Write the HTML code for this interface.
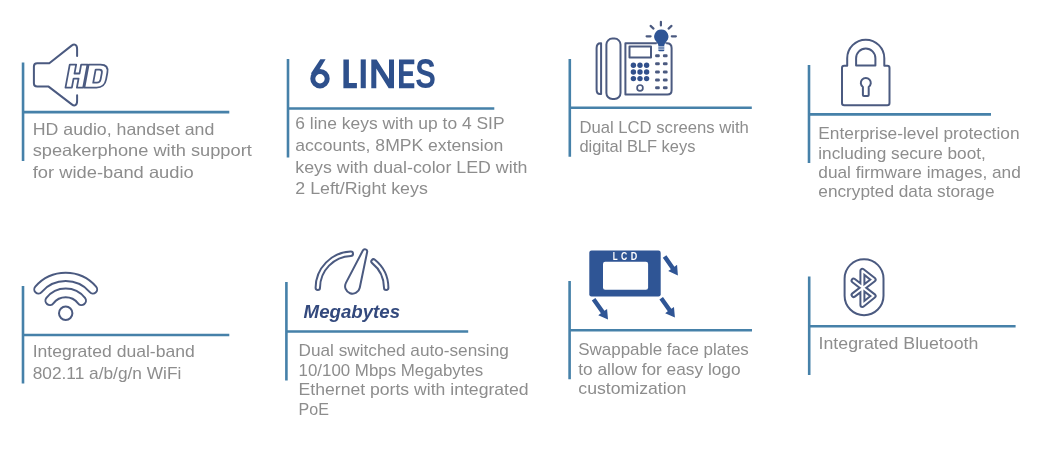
<!DOCTYPE html>
<html><head><meta charset="utf-8">
<style>
html,body{margin:0;padding:0;background:#fff;width:1038px;height:452px;overflow:hidden}
svg{display:block;will-change:transform}
.t{font-family:"Liberation Sans",sans-serif;fill:#8d8d8d}
.ln{stroke:#4681a9;stroke-width:2.6;fill:none}
.ic{stroke:#4d5a80;stroke-width:2;fill:none;stroke-linejoin:round;stroke-linecap:round}
</style></head><body>
<svg width="1038" height="452" viewBox="0 0 1038 452">
<g class="ln">
<path d="M23.05 62.5V160.9M23.05 112.1H229.3"/>
<path d="M288 59V157.6M288 108.5H494.3"/>
<path d="M569.8 58.9V156.7M569.8 107.8H751.8"/>
<path d="M809 64.9V163M809 114.4H991"/>
<path d="M23 285.9V383.6M23 335H229.3"/>
<path d="M286.4 282.1V380.4M286.4 331.5H468.2"/>
<path d="M569.6 281V379.2M569.6 330.2H752"/>
<path d="M809.2 276.5V375M809.2 326.2H1015.6"/>
</g>
<g class="t">
<text x="32.70" y="134.90" font-size="16.5" textLength="181.60" lengthAdjust="spacingAndGlyphs">HD audio, handset and</text>
<text x="32.70" y="156.10" font-size="16.5" textLength="219.10" lengthAdjust="spacingAndGlyphs">speakerphone with support</text>
<text x="32.70" y="177.50" font-size="16.5" textLength="161.10" lengthAdjust="spacingAndGlyphs">for wide-band audio</text>
<text x="295.30" y="128.75" font-size="16.6" textLength="209.25" lengthAdjust="spacingAndGlyphs">6 line keys with up to 4 SIP</text>
<text x="295.30" y="150.75" font-size="16.6" textLength="208.00" lengthAdjust="spacingAndGlyphs">accounts, 8MPK extension</text>
<text x="295.30" y="172.50" font-size="16.6" textLength="232.20" lengthAdjust="spacingAndGlyphs">keys with dual-color LED with</text>
<text x="295.30" y="193.75" font-size="16.6" textLength="132.50" lengthAdjust="spacingAndGlyphs">2 Left/Right keys</text>
<text x="579.40" y="132.80" font-size="16.6" textLength="169.40" lengthAdjust="spacingAndGlyphs">Dual LCD screens with</text>
<text x="579.40" y="152.30" font-size="16.6" textLength="116.00" lengthAdjust="spacingAndGlyphs">digital BLF keys</text>
<text x="818.30" y="139.40" font-size="16.4" textLength="201.25" lengthAdjust="spacingAndGlyphs">Enterprise-level protection</text>
<text x="818.30" y="158.60" font-size="16.4" textLength="167.50" lengthAdjust="spacingAndGlyphs">including secure boot,</text>
<text x="818.30" y="178.40" font-size="16.4" textLength="202.50" lengthAdjust="spacingAndGlyphs">dual firmware images, and</text>
<text x="818.30" y="197.30" font-size="16.4" textLength="176.25" lengthAdjust="spacingAndGlyphs">encrypted data storage</text>
<text x="32.70" y="356.90" font-size="16.6" textLength="162.10" lengthAdjust="spacingAndGlyphs">Integrated dual-band</text>
<text x="32.70" y="378.70" font-size="16.6" textLength="148.60" lengthAdjust="spacingAndGlyphs">802.11 a/b/g/n WiFi</text>
<text x="298.55" y="356.25" font-size="16.4" textLength="210.25" lengthAdjust="spacingAndGlyphs">Dual switched auto-sensing</text>
<text x="298.55" y="375.90" font-size="16.4" textLength="184.75" lengthAdjust="spacingAndGlyphs">10/100 Mbps Megabytes</text>
<text x="298.55" y="395.00" font-size="16.4" textLength="230.05" lengthAdjust="spacingAndGlyphs">Ethernet ports with integrated</text>
<text x="298.55" y="414.50" font-size="16.4" textLength="30.35" lengthAdjust="spacingAndGlyphs">PoE</text>
<text x="578.30" y="355.30" font-size="16.4" textLength="170.50" lengthAdjust="spacingAndGlyphs">Swappable face plates</text>
<text x="578.30" y="374.60" font-size="16.4" textLength="162.25" lengthAdjust="spacingAndGlyphs">to allow for easy logo</text>
<text x="578.30" y="394.10" font-size="16.4" textLength="108.00" lengthAdjust="spacingAndGlyphs">customization</text>
<text x="818.55" y="348.75" font-size="16.4" textLength="159.75" lengthAdjust="spacingAndGlyphs">Integrated Bluetooth</text>
</g>
<path d="M77.1 56V49C77.1 44.3 74.3 43.6 71.6 45.6L49.3 63.2H37.2Q33.9 63.2 33.9 66.5V83.3Q33.9 86.6 37.2 86.6H48.6L71.8 104.4C74.5 106.4 77.1 105.6 77.1 101V95.3" fill="none" stroke="#4b5a80" stroke-width="2" stroke-linejoin="round" stroke-linecap="round"/>
<g transform="translate(0 87.6) skewX(-10.5) translate(0 -87.6)" fill="#fff" stroke="#4b5a80" stroke-width="1.8" stroke-linejoin="round"><path d="M65.5 64.6H71.9V73.5H76.9V64.6H83.2V87.6H76.9V78.6H71.9V87.6H65.5Z"/><path d="M84.4 64.6H96.2Q104.6 64.6 104.6 72.8V79.6Q104.6 87.6 96.6 87.6H84.4Z"/><path d="M92.3 69.6H96Q99.1 69.6 99.1 73V79.3Q99.1 82.7 96 82.7H92.3Z"/></g>
<g fill="#2e508c"><circle cx="320" cy="78.7" r="7.2" fill="none" stroke="#2e508c" stroke-width="5"/><path d="M320.3 59.3H325.6L315.6 75.8L310.9 73.6Z"/><path d="M343.4 59.4H348.9V83H356.9V88.2H343.4Z"/><path d="M360.7 59.4H365.8V88.2H360.7Z"/><path d="M371.3 59.4H376.6L389 79V59.4H394V88.2H388.7L376.3 68.6V88.2H371.3Z"/><path d="M399 59.4H414.3V64.3H403.6V71.3H412.9V76H403.6V83.2H414.3V88.2H399Z"/><text transform="translate(415.2 88.2) scale(0.754 1.02)" x="0" y="0" font-family="Liberation Sans" font-weight="bold" font-size="41">S</text></g>
<g fill="none" stroke="#4b5a80" stroke-width="2" stroke-linejoin="round"><path d="M601.1 43.2H600.6Q596.6 43.2 596.6 48V89.5Q596.6 94 600 94H601.1Z" /><rect x="606.4" y="38.6" width="14.1" height="60.4" rx="6"/><path d="M625.4 43.3H666.8Q671.6 43.3 671.6 48.1V90.3Q671.6 94.5 667.4 94.5H625.4Z"/><rect x="629.5" y="46.6" width="21.5" height="11" /><circle cx="640" cy="87.9" r="2.9" stroke-width="1.7"/></g>
<g fill="#31508c"><circle cx="633.4" cy="65.3" r="2.7"/><circle cx="633.4" cy="72.0" r="2.7"/><circle cx="633.4" cy="78.6" r="2.7"/><circle cx="640.0" cy="65.3" r="2.7"/><circle cx="640.0" cy="72.0" r="2.7"/><circle cx="640.0" cy="78.6" r="2.7"/><circle cx="646.6" cy="65.3" r="2.7"/><circle cx="646.6" cy="72.0" r="2.7"/><circle cx="646.6" cy="78.6" r="2.7"/></g>
<g fill="#4b5a80"><rect x="655.1" y="54.2" width="4.7" height="3" rx="1.2"/><rect x="655.1" y="62.3" width="4.7" height="3" rx="1.2"/><rect x="655.1" y="70.4" width="4.7" height="3" rx="1.2"/><rect x="655.1" y="78.4" width="4.7" height="3" rx="1.2"/><rect x="655.1" y="86.3" width="4.7" height="3" rx="1.2"/><rect x="662.9" y="54.2" width="4.7" height="3" rx="1.2"/><rect x="662.9" y="62.3" width="4.7" height="3" rx="1.2"/><rect x="662.9" y="70.4" width="4.7" height="3" rx="1.2"/><rect x="662.9" y="78.4" width="4.7" height="3" rx="1.2"/><rect x="662.9" y="86.3" width="4.7" height="3" rx="1.2"/></g>
<path d="M656.6 52.5H666.2V43.5H656.6Z" fill="#fff"/>
<path d="M661.3 29.5A7.0 7.0 0 0 1 666.4 41.4Q664.6 43.2 664.3 45H658.3Q658 43.2 656.2 41.4A7.0 7.0 0 0 1 661.3 29.5Z" fill="#2f5595"/>
<path d="M658.3 44.6H664.3V50.2Q664.3 51.3 663.2 51.3H659.4Q658.3 51.3 658.3 50.2Z" fill="#2f5595"/>
<g stroke="#fff" stroke-width="0.9"><path d="M657.8 46.9H664.8M657.8 49.1H664.8"/></g>
<g stroke="#4b5a80" stroke-width="2.2" stroke-linecap="round"><path d="M660.9 21.8V25.4M650.6 25.9L653.5 28.6M671.5 25.9L668.6 28.6M646.6 36.3H650.6M671.8 36.3H675.9"/></g>
<g fill="none" stroke="#4b5a80" stroke-width="2" stroke-linejoin="round"><path d="M847.2 65.8H844.2Q842 65.8 842 68V103.1Q842 105.3 844.2 105.3H887.3Q889.5 105.3 889.5 103.1V68Q889.5 65.8 887.3 65.8H884.3V58.2A18.55 18.55 0 0 0 847.2 58.2Z"/><path d="M856.1 65.5V58.2A9.65 9.65 0 0 1 875.4 58.2V65.5Z"/><path d="M862.9 87V95Q862.9 96 863.9 96H867.7Q868.7 96 868.7 95V87A5 5 0 1 0 862.9 87Z"/></g>
<path d="M38.45 289.32A36.1 36.1 0 0 1 92.95 289.32" fill="none" stroke="#4b5a80" stroke-width="10.3" stroke-linecap="round"/>
<path d="M38.45 289.32A36.1 36.1 0 0 1 92.95 289.32" fill="none" stroke="#fff" stroke-width="6.4" stroke-linecap="round"/>
<path d="M49.88 300.64A20.07 20.07 0 0 1 81.52 300.64" fill="none" stroke="#4b5a80" stroke-width="10.85" stroke-linecap="round"/>
<path d="M49.88 300.64A20.07 20.07 0 0 1 81.52 300.64" fill="none" stroke="#fff" stroke-width="6.85" stroke-linecap="round"/>
<circle cx="65.7" cy="313.2" r="6.7" fill="none" stroke="#4b5a80" stroke-width="2"/>
<path d="M317.80 287.70A34.2 34.2 0 0 1 350.81 253.82M373.52 261.42A34.2 34.2 0 0 1 386.20 287.70" fill="none" stroke="#4b5a80" stroke-width="6.4" stroke-linecap="round"/>
<path d="M317.80 287.70A34.2 34.2 0 0 1 350.81 253.82M373.52 261.42A34.2 34.2 0 0 1 386.20 287.70" fill="none" stroke="#fff" stroke-width="2.4" stroke-linecap="round"/>
<path d="M367.15 252.07L359.75 287.80A7.4 7.4 0 1 1 345.94 282.87L362.86 250.53A2.3 2.3 0 0 1 367.15 252.07Z" fill="none" stroke="#4b5a80" stroke-width="2" stroke-linejoin="round"/>
<text x="303.6" y="317.8" font-family="Liberation Sans" font-weight="bold" font-style="italic" font-size="18" fill="#33497d" textLength="96.5" lengthAdjust="spacingAndGlyphs">Megabytes</text>
<rect x="589.3" y="250.6" width="71.4" height="45.9" rx="2.2" fill="#2f5595"/>
<rect x="603" y="261.8" width="45.1" height="27.9" rx="2.2" fill="#fff"/>
<g font-family="Liberation Sans" font-weight="bold" font-size="10" fill="#fff"><text transform="translate(612.8 259.9) scale(0.8 1)" x="0" y="0">L</text><text transform="translate(620.9 259.9) scale(0.86 1)" x="0" y="0">C</text><text transform="translate(630.7 259.9) scale(0.9 1)" x="0" y="0">D</text></g>
<path d="M662.79 257.66L670.84 269.21L668.21 271.04L677.90 275.50L677.07 264.86L674.45 266.69L666.41 255.14ZM591.81 300.57L600.88 313.37L598.27 315.22L608.00 319.60L607.08 308.97L604.47 310.82L595.39 298.03ZM659.41 299.57L667.78 311.37L665.17 313.22L674.90 317.60L673.98 306.97L671.37 308.82L662.99 297.03Z" fill="#2f5595"/>
<rect x="844.6" y="259.2" width="38.9" height="56" rx="19.45" fill="none" stroke="#4b5a80" stroke-width="2"/>
<path d="M853.6 295L873.6 279.6L862.4 270.8V305L873.6 296L853.6 280.6" fill="none" stroke="#4b5a80" stroke-width="6" stroke-linejoin="round" stroke-linecap="round"/>
<path d="M853.6 295L873.6 279.6L862.4 270.8V305L873.6 296L853.6 280.6" fill="none" stroke="#fff" stroke-width="2" stroke-linejoin="round" stroke-linecap="round"/>
</svg>
</body></html>
